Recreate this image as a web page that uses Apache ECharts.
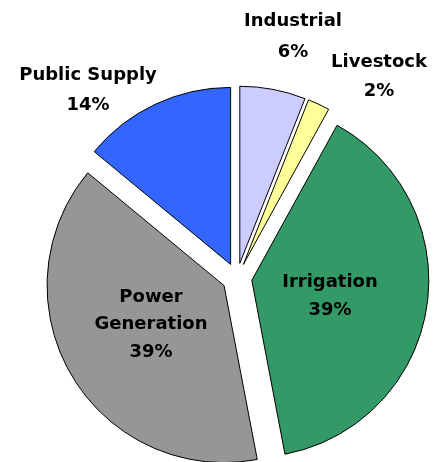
<!DOCTYPE html>
<html>
<head>
<meta charset="utf-8">
<script src="https://cdn.jsdelivr.net/npm/echarts@6/dist/echarts.min.js"></script>
<style>html,body{margin:0;padding:0;background:#fff}#c{width:440px;height:462px}</style>
</head>
<body>
<div id="c"></div>
<script>
var categories = ['Industrial', 'Livestock', 'Irrigation', 'Power Generation', 'Public Supply'];
var values = [6, 2, 39, 39, 14];
var colors = ['#CCCCFF', '#FFFF99', '#339966', '#969696', '#3366FF'];
// label anchor: centre x, y of first line, line spacing
var labelPos = [[293, 20, 31], [379, 61, 29], [330, 281, 28], [151, 296, 27.5], [88, 74, 30]];

var chart = echarts.init(document.getElementById('c'), null, {renderer: 'canvas'});
var total = values.reduce(function (a, b) { return a + b; }, 0);
var data = categories.map(function (n, i) {
  var st = {color: colors[i], borderColor: '#000', borderWidth: 1};
  return {
    name: n, value: values[i], selected: true,
    itemStyle: st,
    select: {itemStyle: st}
  };
});
var graphics = [];
categories.forEach(function (n, i) {
  var lines = (n === 'Power Generation' ? ['Power', 'Generation'] : [n]);
  lines.push(Math.round(values[i] / total * 100) + '%');
  var p = labelPos[i];
  lines.forEach(function (t, k) {
    graphics.push({
      type: 'text', x: p[0], y: p[1] + k * p[2] + 1, z: 100,
      style: {
        text: t, fill: '#000',
        font: 'bold 18px "DejaVu Sans"',
        textAlign: 'center', textVerticalAlign: 'middle'
      }
    });
  });
});
chart.setOption({
  backgroundColor: '#fff',
  animation: false,
  graphic: graphics,
  series: [{
    type: 'pie',
    center: [237, 278],
    radius: [0, 177],
    startAngle: 90,
    clockwise: true,
    selectedMode: 'multiple',
    selectedOffset: 15,
    emphasis: {disabled: true},
    label: {show: false},
    labelLine: {show: false},
    data: data
  }]
});
</script>
</body>
</html>
